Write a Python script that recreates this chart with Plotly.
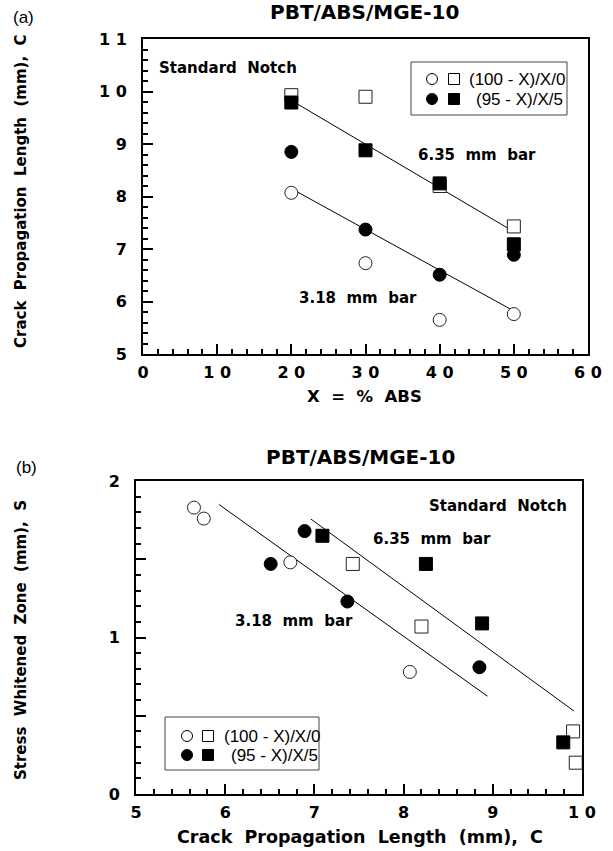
import plotly.graph_objects as go

W, H = 613, 851

# ---------------- data ----------------
X_ABS = [20, 30, 40, 50]
# Crack propagation length C (mm)
C_open_circle = [8.07, 6.73, 5.65, 5.76]   # 3.18 mm bar, (100-X)/X/0
C_fill_circle = [8.85, 7.37, 6.51, 6.89]   # 3.18 mm bar, (95-X)/X/5
C_open_square = [9.93, 9.90, 8.20, 7.43]   # 6.35 mm bar, (100-X)/X/0
C_fill_square = [9.79, 8.88, 8.25, 7.09]   # 6.35 mm bar, (95-X)/X/5
# Stress whitened zone S (mm)
S_open_circle = [0.78, 1.48, 1.83, 1.76]
S_fill_circle = [0.81, 1.23, 1.47, 1.68]
S_open_square = [0.20, 0.40, 1.07, 1.47]
S_fill_square = [0.33, 1.09, 1.47, 1.65]

# fitted lines
fit_a_X = [20, 50]
fit_a_635 = [9.83, 7.33]
fit_a_318 = [8.15, 5.82]
fit_b_635_C = [6.96, 9.91]
fit_b_635_S = [1.757, 0.53]
fit_b_318_C = [5.93, 8.94]
fit_b_318_S = [1.85, 0.625]

xa_ticks = [0, 10, 20, 30, 40, 50, 60]
xa_text = ["0", "1 0", "2 0", "3 0", "4 0", "5 0", "6 0"]
ya_ticks = [5, 6, 7, 8, 9, 10, 11]
ya_text = ["5", "6", "7", "8", "9", "1 0", "1 1"]
xb_ticks = [5, 6, 7, 8, 9, 10]
xb_text = ["5", "6", "7", "8", "9", "1 0"]
yb_ticks = [0, 0.5, 1, 1.5, 2]
yb_text = ["0", "", "1", "", "2"]

BOLD = dict(family="DejaVu Sans", size=15, color="black", weight="bold")
TICKF = dict(family="DejaVu Sans", size=16, color="black", weight="bold")
REG = dict(family="Liberation Sans", size=17, color="black")


def px(x):
    return x / W


def py(y):
    return 1 - y / H


fig = go.Figure()

open_mk = dict(color="white", size=13, line=dict(color="#222", width=1))
fill_mk = dict(color="black", size=13, line=dict(color="black", width=1))

# panel (a)
fig.add_trace(go.Scatter(x=fit_a_X, y=fit_a_635, mode="lines", line=dict(color="black", width=1), xaxis="x", yaxis="y"))
fig.add_trace(go.Scatter(x=fit_a_X, y=fit_a_318, mode="lines", line=dict(color="black", width=1), xaxis="x", yaxis="y"))
fig.add_trace(go.Scatter(x=X_ABS, y=C_open_square, mode="markers", marker=dict(symbol="square", **open_mk), xaxis="x", yaxis="y"))
fig.add_trace(go.Scatter(x=X_ABS, y=C_open_circle, mode="markers", marker=dict(symbol="circle", **open_mk), xaxis="x", yaxis="y"))
fig.add_trace(go.Scatter(x=X_ABS, y=C_fill_square, mode="markers", marker=dict(symbol="square", **fill_mk), xaxis="x", yaxis="y"))
fig.add_trace(go.Scatter(x=X_ABS, y=C_fill_circle, mode="markers", marker=dict(symbol="circle", **fill_mk), xaxis="x", yaxis="y"))

# panel (b)
fig.add_trace(go.Scatter(x=fit_b_635_C, y=fit_b_635_S, mode="lines", line=dict(color="black", width=1), xaxis="x2", yaxis="y2"))
fig.add_trace(go.Scatter(x=fit_b_318_C, y=fit_b_318_S, mode="lines", line=dict(color="black", width=1), xaxis="x2", yaxis="y2"))
fig.add_trace(go.Scatter(x=C_open_square, y=S_open_square, mode="markers", marker=dict(symbol="square", **open_mk), xaxis="x2", yaxis="y2"))
fig.add_trace(go.Scatter(x=C_open_circle, y=S_open_circle, mode="markers", marker=dict(symbol="circle", **open_mk), xaxis="x2", yaxis="y2"))
fig.add_trace(go.Scatter(x=C_fill_square, y=S_fill_square, mode="markers", marker=dict(symbol="square", **fill_mk), xaxis="x2", yaxis="y2"))
fig.add_trace(go.Scatter(x=C_fill_circle, y=S_fill_circle, mode="markers", marker=dict(symbol="circle", **fill_mk), xaxis="x2", yaxis="y2"))

TW = 2
TC = "black"


def axis(domain, rng, tickvals, ticktext, minor_dtick, anchor, standoff):
    return dict(
        domain=domain, range=rng, anchor=anchor,
        tickmode="array", tickvals=tickvals, ticktext=ticktext,
        ticks="inside", ticklen=10, tickwidth=TW, tickcolor=TC,
        minor=dict(dtick=minor_dtick, ticks="inside", ticklen=5, tickwidth=TW, tickcolor=TC),
        showline=True, linewidth=2, linecolor="black", mirror=True,
        showgrid=False, zeroline=False, tickfont=TICKF,
        ticklabelstandoff=standoff, automargin=False,
    )


def mirror_axis(over, side, anchor, rng, tickvals, minor_dtick):
    return dict(
        overlaying=over, side=side, anchor=anchor, range=rng,
        tickmode="array", tickvals=tickvals, showticklabels=False,
        ticks="inside", ticklen=10, tickwidth=TW, tickcolor=TC,
        minor=dict(dtick=minor_dtick, ticks="inside", ticklen=5, tickwidth=TW, tickcolor=TC),
        showline=False, showgrid=False, zeroline=False, automargin=False,
    )


fig.update_layout(
    width=W, height=H, margin=dict(l=0, r=0, t=0, b=0),
    paper_bgcolor="white", plot_bgcolor="white", showlegend=False,
    xaxis=axis([px(143), px(588)], [0, 60], xa_ticks, xa_text, 2, "y", 3),
    yaxis=axis([py(354), py(39)], [5, 11], ya_ticks, ya_text, 0.2, "x", 11),
    xaxis2=axis([px(136), px(582)], [5, 10], xb_ticks, xb_text, 0.2, "y2", 3),
    yaxis2=axis([py(794), py(481)], [0, 2], yb_ticks, yb_text, 0.1, "x2", 11),
    xaxis3=mirror_axis("x", "top", "y", [0, 60], xa_ticks, 2),
    yaxis3=mirror_axis("y", "right", "x", [5, 11], ya_ticks, 0.2),
    xaxis4=mirror_axis("x2", "top", "y2", [5, 10], xb_ticks, 0.2),
    yaxis4=mirror_axis("y2", "right", "x2", [0, 2], yb_ticks, 0.1),
)

ann = []


def text(x, y, s, font, xanchor="center", angle=0):
    ann.append(dict(x=px(x), y=py(y), xref="paper", yref="paper", text=s, showarrow=False,
                    font=font, xanchor=xanchor, yanchor="middle", textangle=angle))


TITLEF = dict(family="DejaVu Sans", size=20, color="black", weight="bold")
AXF = dict(family="DejaVu Sans", size=15, color="black", weight="bold")
AXF_X = dict(family="DejaVu Sans", size=16.5, color="black", weight="bold")
AXF_XB = dict(family="DejaVu Sans", size=17.5, color="black", weight="bold")

# panel (a) texts
text(365, 12, "PBT/ABS/MGE-10", TITLEF)
text(24, 18, "(a)", REG)
text(365, 397, "X  =  %  ABS", AXF_X)
text(21, 191, "Crack  Propagation  Length  (mm),  C", AXF, angle=-90)
text(157, 68, "Standard  Notch", BOLD, xanchor="left")
text(416, 155, "6.35  mm  bar", BOLD, xanchor="left")
text(297, 298, "3.18  mm  bar", BOLD, xanchor="left")

# panel (b) texts
text(360, 457, "PBT/ABS/MGE-10", TITLEF)
text(26, 467, "(b)", REG)
text(360, 837, "Crack  Propagation  Length  (mm),  C", AXF_XB)
text(21, 640, "Stress  Whitened  Zone  (mm),  S", AXF, angle=-90)
text(427, 506, "Standard  Notch", BOLD, xanchor="left")
text(371, 539, "6.35  mm  bar", BOLD, xanchor="left")
text(233, 621, "3.18  mm  bar", BOLD, xanchor="left")

# legends (drawn boxes with glyphs)
shapes = []


def legend(x0, y0, x1, y1, cx1, cx2, ry1, ry2, tx1, tx2):
    shapes.append(dict(type="rect", xref="paper", yref="paper", x0=px(x0), x1=px(x1), y0=py(y1), y1=py(y0),
                       line=dict(color="#444", width=1), fillcolor="white", layer="above"))
    r = 5.5
    for (cx, cy, kind, fill) in [(cx1, ry1, "circle", "white"), (cx2, ry1, "rect", "white"),
                                 (cx1, ry2, "circle", "black"), (cx2, ry2, "rect", "black")]:
        shapes.append(dict(type=kind, xref="paper", yref="paper", xsizemode="pixel", ysizemode="pixel",
                           xanchor=px(cx), yanchor=py(cy), x0=-r, x1=r, y0=-r, y1=r,
                           line=dict(color="black", width=1), fillcolor=fill, layer="above"))
    text(tx1, ry1, "(100 - X)/X/0", REG, xanchor="left")
    text(tx2, ry2, "(95 - X)/X/5", REG, xanchor="left")


legend(411, 62, 567, 115, 432, 454, 79, 99, 467, 474)
legend(165, 717, 319, 770, 187, 208, 736, 755, 222, 229)

fig.update_layout(annotations=ann, shapes=shapes)
fig.write_html("out.html")
